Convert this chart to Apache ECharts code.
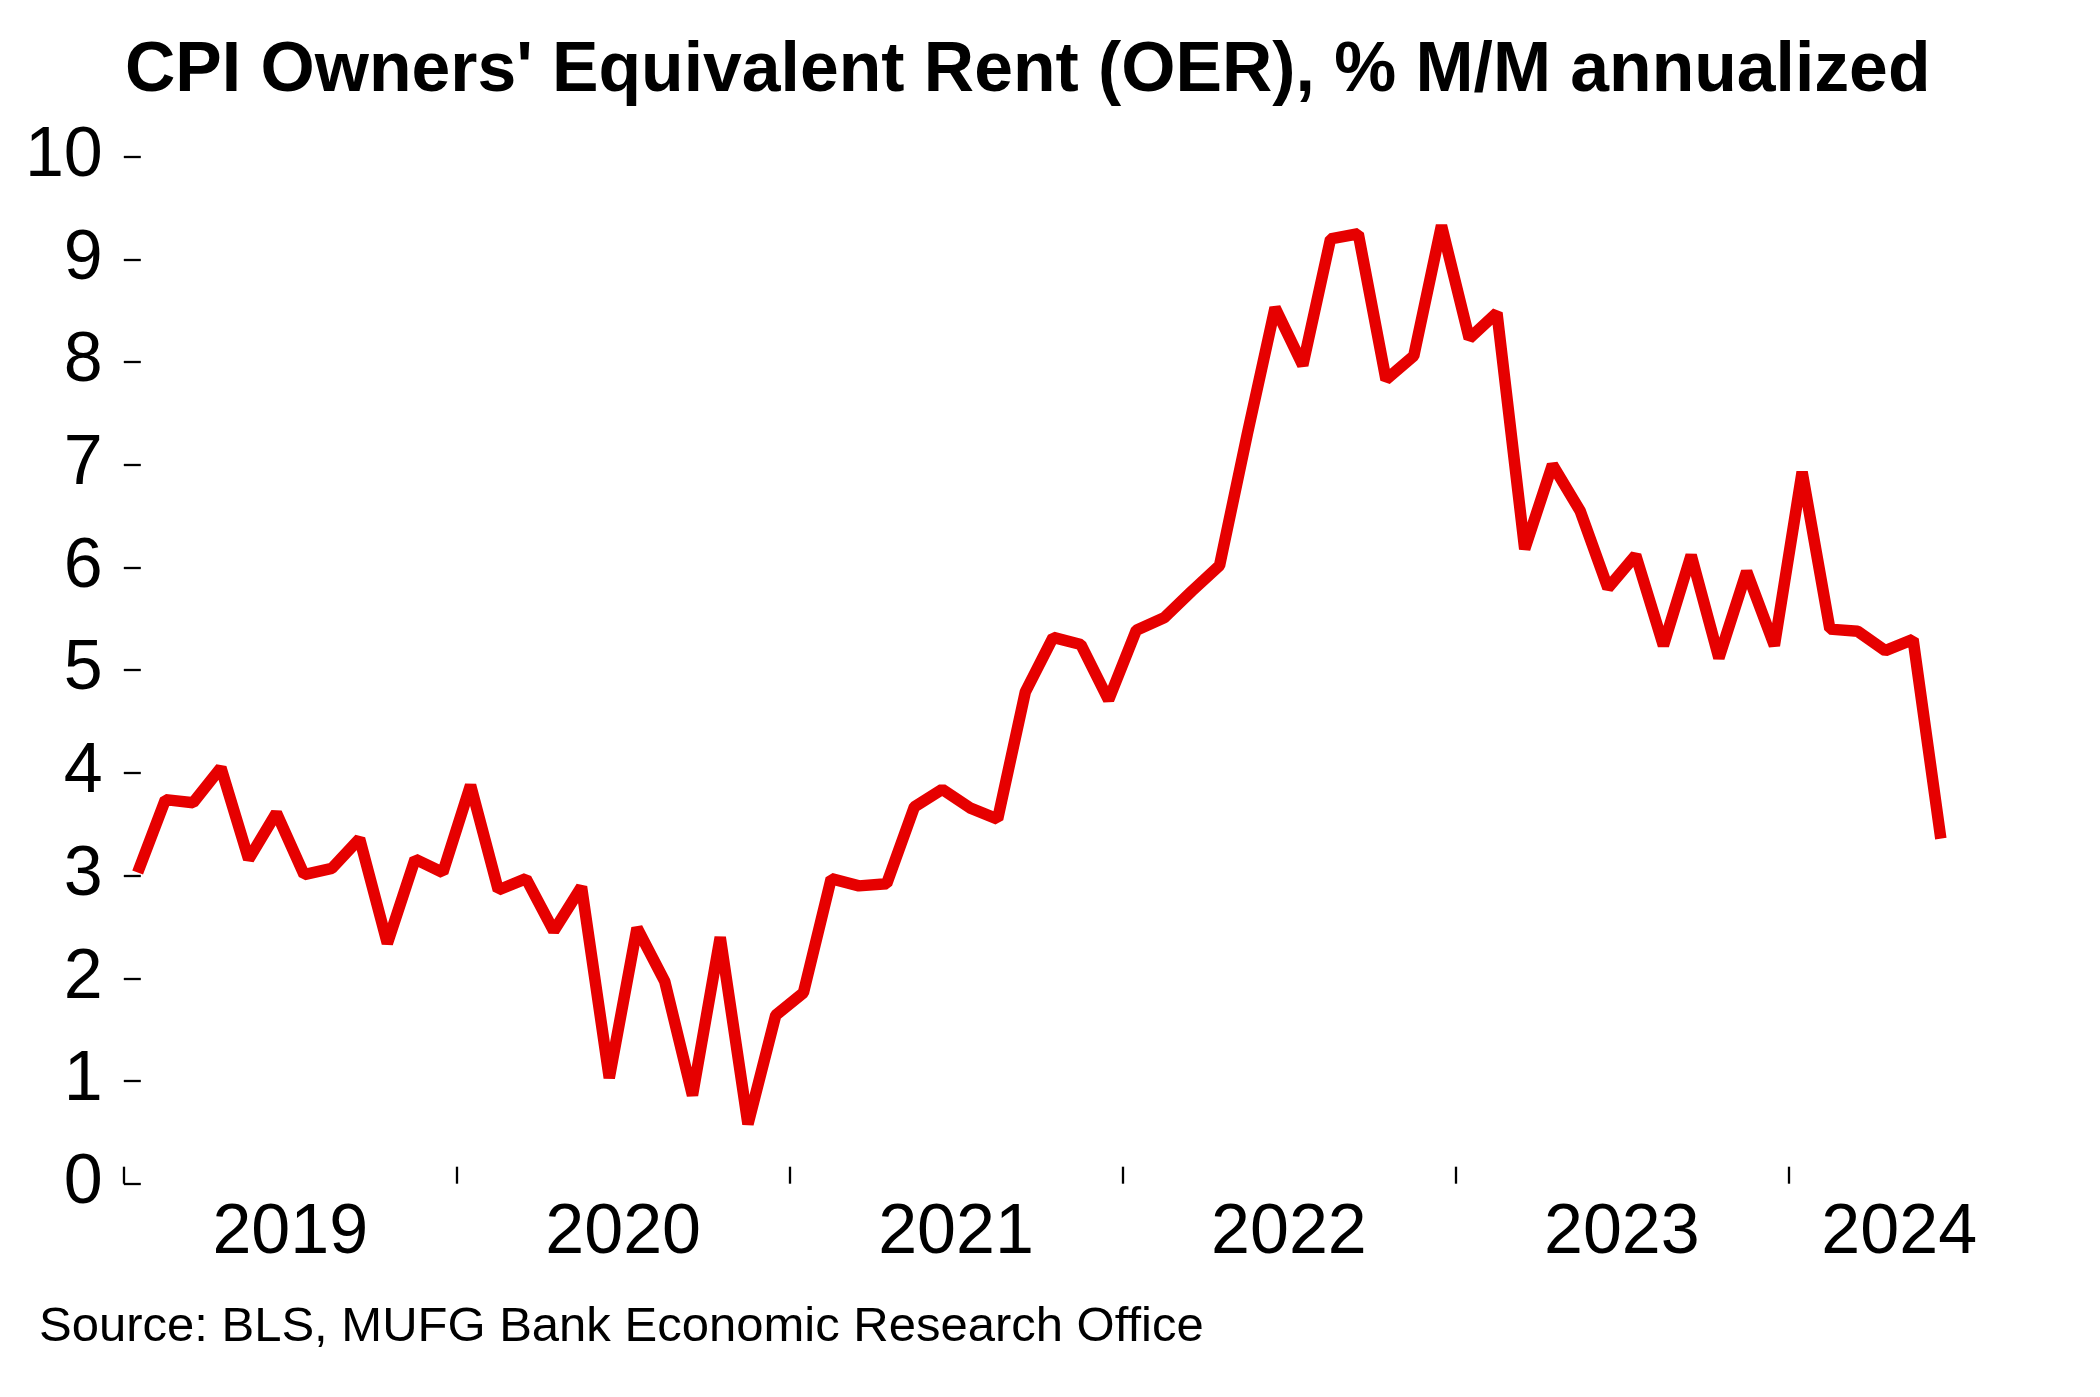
<!DOCTYPE html>
<html>
<head>
<meta charset="utf-8">
<script src="https://cdn.jsdelivr.net/npm/echarts@6/dist/echarts.min.js"></script>
<style>
  html, body { margin: 0; padding: 0; background: #ffffff; }
  #chart { width: 2100px; height: 1397px; }
</style>
</head>
<body>
<div id="chart"></div>
<script>
// ---- data ----
const titleText = "CPI Owners' Equivalent Rent (OER), % M/M annualized";
const sourceText = "Source: BLS, MUFG Bank Economic Research Office";
const startYear = 2019;
const months = [
  '2019-01','2019-02','2019-03','2019-04','2019-05','2019-06','2019-07','2019-08','2019-09','2019-10','2019-11','2019-12',
  '2020-01','2020-02','2020-03','2020-04','2020-05','2020-06','2020-07','2020-08','2020-09','2020-10','2020-11','2020-12',
  '2021-01','2021-02','2021-03','2021-04','2021-05','2021-06','2021-07','2021-08','2021-09','2021-10','2021-11','2021-12',
  '2022-01','2022-02','2022-03','2022-04','2022-05','2022-06','2022-07','2022-08','2022-09','2022-10','2022-11','2022-12',
  '2023-01','2023-02','2023-03','2023-04','2023-05','2023-06','2023-07','2023-08','2023-09','2023-10','2023-11','2023-12',
  '2024-01','2024-02','2024-03','2024-04','2024-05','2024-06'
];
const oer = [
  3.03, 3.74, 3.71, 4.05, 3.16, 3.61, 3.01, 3.07, 3.36, 2.34, 3.16, 3.03,
  3.88, 2.86, 2.97, 2.46, 2.89, 1.03, 2.49, 1.97, 0.86, 2.40, 0.58, 1.64,
  1.86, 2.97, 2.90, 2.92, 3.67, 3.84, 3.66, 3.55, 4.79, 5.32, 5.25, 4.71,
  5.39, 5.51, 5.77, 6.02, 7.30, 8.53, 7.97, 9.20, 9.25, 7.83, 8.06, 9.33,
  8.23, 8.48, 6.18, 7.00, 6.55, 5.80, 6.12, 5.24, 6.12, 5.12, 5.96, 5.24,
  6.93, 5.40, 5.38, 5.19, 5.30, 3.36
];
const yearLabels = ['2019', '2020', '2021', '2022', '2023', '2024'];
const yTicks = [0, 1, 2, 3, 4, 5, 6, 7, 8, 9, 10];

// ---- build ----
const n = months.length;
const seriesData = months.map((m, i) => [i, oer[i]]);
// year boundaries (ticks) and year centres (labels), in month-index units
const yearTickPos = yearLabels.map((y, k) => k * 12 - 0.5);
const yearLabelPos = yearLabels.map((y, k) => {
  const first = k * 12 - 0.5;
  const last = Math.min((k + 1) * 12, n) - 0.5;
  return k === yearLabels.length - 1 ? last - 2.0 : (first + last) / 2;
});

const FONT = "'Liberation Sans', Arial, sans-serif";
const chart = echarts.init(document.getElementById('chart'), null, { renderer: 'canvas' });
chart.setOption({
  backgroundColor: '#ffffff',
  animation: false,
  title: [
    {
      text: titleText,
      left: 125, top: 37, padding: 0,
      textStyle: { fontFamily: FONT, fontSize: 69.7, fontWeight: 'bold', color: '#000000' }
    },
    {
      text: sourceText,
      left: 39, top: 1303, padding: 0,
      textStyle: { fontFamily: FONT, fontSize: 49, fontWeight: 'normal', color: '#000000' }
    }
  ],
  grid: { left: 123.8, right: 145.3, top: 156.7, bottom: 213.3, outerBoundsMode: 'none', containLabel: false },
  xAxis: {
    type: 'value',
    min: -0.5,
    max: n - 0.5,
    splitLine: { show: false },
    axisLine: { show: false, onZero: false },
    axisTick: {
      show: true, inside: true, length: 17,
      customValues: yearTickPos,
      lineStyle: { color: '#000000', width: 2.3 }
    },
    axisLabel: {
      show: true, margin: 15,
      customValues: yearLabelPos,
      formatter: v => String(startYear + Math.floor((v + 0.5) / 12)),
      fontFamily: FONT, fontSize: 70, color: '#000000'
    }
  },
  yAxis: {
    type: 'value',
    min: yTicks[0],
    max: yTicks[yTicks.length - 1],
    interval: 1,
    splitLine: { show: false },
    axisLine: { show: false, onZero: false },
    axisTick: { show: true, inside: true, length: 17, lineStyle: { color: '#000000', width: 2.3 } },
    axisLabel: { margin: 21, fontFamily: FONT, fontSize: 70, color: '#000000' }
  },
  series: [{
    type: 'line',
    data: seriesData,
    showSymbol: false,
    symbol: 'none',
    lineStyle: { color: '#E60000', width: 11.5, join: 'bevel', cap: 'butt' },
    clip: false
  }]
});
</script>
</body>
</html>
